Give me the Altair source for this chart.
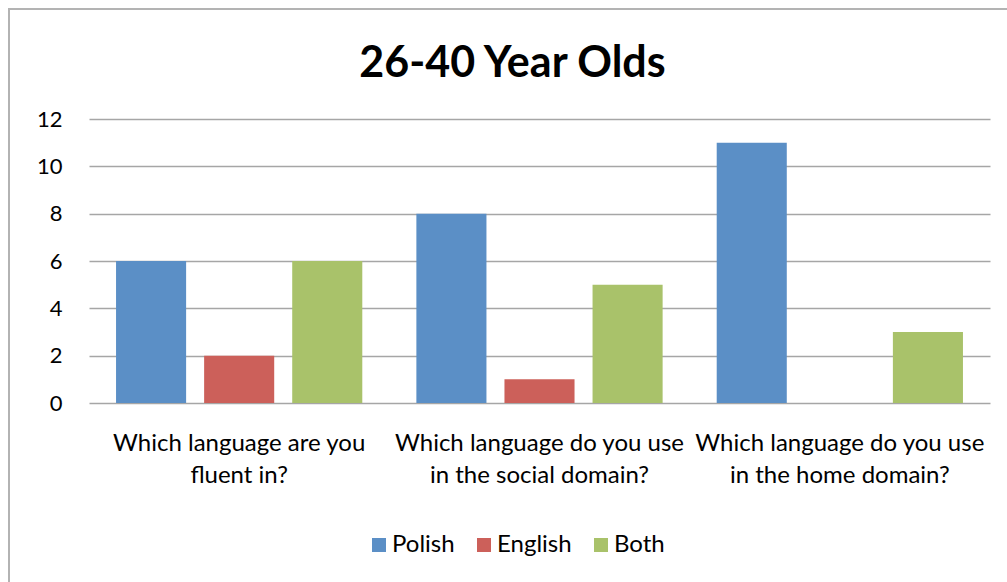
import altair as alt
import pandas as pd

categories = [
    "Which language are you|fluent in?",
    "Which language do you use|in the social domain?",
    "Which language do you use|in the home domain?",
]
series = ["Polish", "English", "Both"]
polish = [6, 8, 11]
english = [2, 1, 0]
both = [6, 5, 3]
colors = ["#5b8fc6", "#cc605a", "#a9c26a"]
y_ticks = [0, 2, 4, 6, 8, 10, 12]

rows = []
for name, vals in zip(series, [polish, english, both]):
    for q, v in zip(categories, vals):
        rows.append({"question": q, "series": name, "value": v})
df = pd.DataFrame(rows)

FONT = "Lato"

bars = alt.Chart(df).mark_bar().encode(
    x=alt.X(
        "question:N",
        sort=categories,
        scale=alt.Scale(paddingInner=0, paddingOuter=0),
        axis=alt.Axis(
            title=None,
            labelAngle=0,
            labelExpr="split(datum.label, '|')",
            labelFont=FONT,
            labelFontSize=24,
            labelColor="#000000",
            labelPadding=28,
            labelLineHeight=32,
            labelBaseline="top",
            labelLimit=500,
            ticks=False,
            domain=False,
            grid=False,
        ),
    ),
    xOffset=alt.XOffset(
        "series:N",
        sort=series,
        scale=alt.Scale(paddingInner=0.2045, paddingOuter=0.307),
    ),
    y=alt.Y(
        "value:Q",
        scale=alt.Scale(domain=[0, 12], nice=False),
        axis=alt.Axis(
            title=None,
            values=y_ticks,
            labelFont=FONT,
            labelFontSize=22,
            labelColor="#000000",
            labelPadding=27,
            ticks=False,
            domain=False,
            grid=True,
            gridColor="#a6a6a6",
            gridWidth=1.6,
        ),
    ),
    color=alt.Color(
        "series:N",
        sort=series,
        scale=alt.Scale(domain=series, range=colors),
        legend=alt.Legend(
            title=None,
            orient="none",
            legendX=278,
            legendY=414,
            direction="horizontal",
            symbolType="square",
            symbolSize=196,
            symbolStrokeWidth=0,
            labelFont=FONT,
            labelFontSize=24,
            labelColor="#000000",
            labelOffset=1,
            columnPadding=17,
        ),
    ),
)

border = alt.Chart(pd.DataFrame({"a": [0]})).mark_rect(
    filled=False, stroke="#b3b3b3", strokeWidth=2
).encode(
    x=alt.value(-80),
    x2=alt.value(940),
    y=alt.value(-110),
    y2=alt.value(490),
)

chart = alt.layer(border, bars).properties(
    width=901,
    height=284,
    title=alt.TitleParams(
        "26-40 Year Olds",
        font=FONT,
        fontSize=43,
        fontWeight="bold",
        color="#000000",
        anchor="middle",
        dx=-27,
        offset=-78,
    ),
    autosize=alt.AutoSizeParams(type="none"),
    padding={"left": 89, "top": 119, "right": 17, "bottom": 179},
).configure(
    background="#ffffff",
    view=alt.ViewConfig(stroke="transparent", strokeWidth=0),
)

chart.save("out.html", embed_options={"renderer": "svg", "actions": False})
